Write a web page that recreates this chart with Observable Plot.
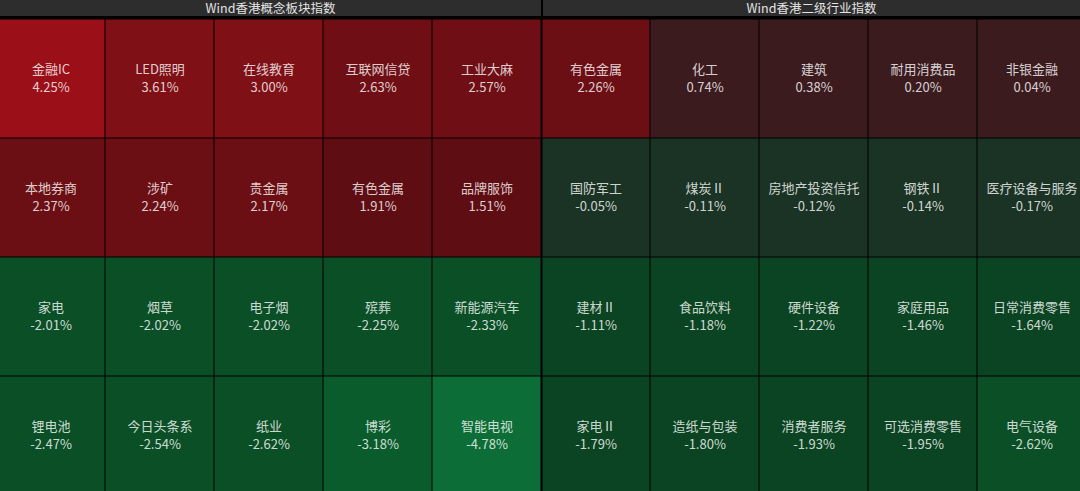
<!DOCTYPE html>
<html>
<head>
<meta charset="utf-8">
<script src="https://cdn.jsdelivr.net/npm/d3@7"></script>
<script src="https://cdn.jsdelivr.net/npm/@observablehq/plot@0.6"></script>
<style>
  html, body { margin: 0; padding: 0; background: #000; width: 1080px; height: 491px; overflow: hidden; }
  #header { display: flex; height: 16px; border-bottom: 1px solid #000; background: #000; }
  #header div { background: #2d2d2d; color: #e4e4e4; font: 12.5px "Noto Sans CJK SC", sans-serif; line-height: 16px; text-align: center; }
  #h1 { width: 541px; margin-right: 2px; }
  #h2 { width: 537px; }
  #chart { width: 1080px; height: 474px; overflow: hidden; }
</style>
</head>
<body>
<div id="header"><div id="h1"></div><div id="h2"></div></div>
<div id="chart"></div>
<script>
const panelTitles = ["Wind香港概念板块指数", "Wind香港二级行业指数"];

const leftNames = [
  "金融IC", "LED照明", "在线教育", "互联网信贷", "工业大麻",
  "本地券商", "涉矿", "贵金属", "有色金属", "品牌服饰",
  "家电", "烟草", "电子烟", "殡葬", "新能源汽车",
  "锂电池", "今日头条系", "纸业", "博彩", "智能电视"
];
const leftValues = [
  4.25, 3.61, 3.00, 2.63, 2.57,
  2.37, 2.24, 2.17, 1.91, 1.51,
  -2.01, -2.02, -2.02, -2.25, -2.33,
  -2.47, -2.54, -2.62, -3.18, -4.78
];
const rightNames = [
  "有色金属", "化工", "建筑", "耐用消费品", "非银金融",
  "国防军工", "煤炭Ⅱ", "房地产投资信托", "钢铁Ⅱ", "医疗设备与服务",
  "建材Ⅱ", "食品饮料", "硬件设备", "家庭用品", "日常消费零售",
  "家电Ⅱ", "造纸与包装", "消费者服务", "可选消费零售", "电气设备"
];
const rightValues = [
  2.26, 0.74, 0.38, 0.20, 0.04,
  -0.05, -0.11, -0.12, -0.14, -0.17,
  -1.11, -1.18, -1.22, -1.46, -1.64,
  -1.79, -1.80, -1.93, -1.95, -2.62
];

document.getElementById("h1").textContent = panelTitles[0];
document.getElementById("h2").textContent = panelTitles[1];

const cells = [];
leftNames.forEach((n, i) => cells.push({panel: 0, col: i % 5, row: Math.floor(i / 5), name: n, value: leftValues[i]}));
rightNames.forEach((n, i) => cells.push({panel: 1, col: 5 + i % 5, row: Math.floor(i / 5), name: n, value: rightValues[i]}));

const fmt = v => v.toFixed(2) + "%";
const font = "Noto Sans CJK SC, sans-serif";

const chart = Plot.plot({
  width: 1080,
  height: 474,
  margin: 0,
  style: {background: "#000", fontFamily: font},
  x: {type: "band", domain: d3.range(10), range: [-6, 1087], padding: 0, axis: null},
  y: {type: "band", domain: d3.range(4), range: [0, 479], padding: 0, axis: null},
  color: {
    type: "threshold",
    domain: [-4, -3, -2, -1, 0, 1, 2, 2.5, 3, 4],
    range: ["#0c6e36", "#0a5c2c", "#0b4f27", "#0b4422", "#1a3324",
            "#3c1b1f", "#5e0d13", "#6b0f15", "#6f0f15", "#7e1016", "#9a0f18"]
  },
  marks: [
    Plot.cell(cells.filter(d => d.col !== 5), {x: "col", y: "row", fill: "value", inset: 0.5}),
    Plot.cell(cells.filter(d => d.col === 5), {x: "col", y: "row", fill: "value", inset: 0.5, insetLeft: 1.5}),
    Plot.text(cells, {x: "col", y: "row", text: "name", dy: -9, fill: "#fff", fillOpacity: 0.8, fontSize: 13, fontFamily: font}),
    Plot.text(cells, {x: "col", y: "row", text: d => fmt(d.value), dy: 9, fill: "#fff", fillOpacity: 0.8, fontSize: 13, fontFamily: font})
  ]
});
document.getElementById("chart").appendChild(chart);
</script>
</body>
</html>
